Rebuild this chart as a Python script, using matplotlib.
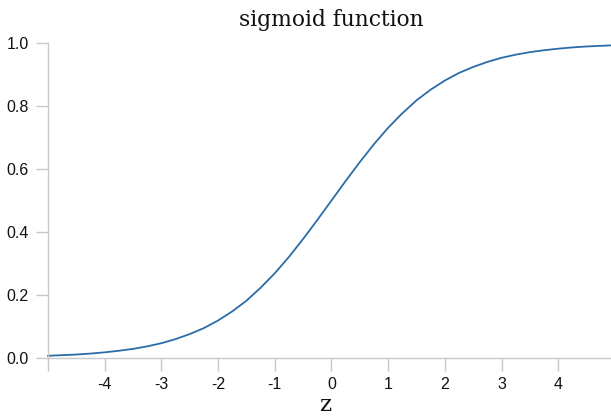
import matplotlib
matplotlib.use('Agg')
import matplotlib.pyplot as plt

# values
z = [-5.0, -4.75, -4.5, -4.25, -4.0, -3.75, -3.5, -3.25, -3.0, -2.75, -2.5,
     -2.25, -2.0, -1.75, -1.5, -1.25, -1.0, -0.75, -0.5, -0.25, 0.0,
     0.25, 0.5, 0.75, 1.0, 1.25, 1.5, 1.75, 2.0, 2.25, 2.5,
     2.75, 3.0, 3.25, 3.5, 3.75, 4.0, 4.25, 4.5, 4.75, 5.0]
sig = [0.007, 0.009, 0.011, 0.014, 0.018, 0.023, 0.029, 0.037, 0.047, 0.060, 0.076,
       0.095, 0.119, 0.148, 0.182, 0.223, 0.269, 0.321, 0.378, 0.438, 0.500,
       0.562, 0.622, 0.679, 0.731, 0.777, 0.818, 0.852, 0.881, 0.905, 0.924,
       0.940, 0.953, 0.963, 0.971, 0.977, 0.982, 0.986, 0.989, 0.991, 0.993]
x_ticks = [-5, -4, -3, -2, -1, 0, 1, 2, 3, 4]
x_labels = ['', '-4', '-3', '-2', '-1', '0', '1', '2', '3', '4']
y_ticks = [0.0, 0.2, 0.4, 0.6, 0.8, 1.0]

fig = plt.figure(figsize=(6.11, 4.19), dpi=100)
ax = fig.add_axes([48 / 611, 1 - 358 / 419, 1 - 48 / 611, (358 - 43) / 419])
ax.plot(z, sig, color='#2b6ca8', linewidth=1.3, clip_on=False,
        solid_joinstyle='round')

ax.set_xlim(-5, 4.93)
ax.set_ylim(0, 1)
ax.set_xticks(x_ticks)
ax.set_xticklabels(x_labels)
ax.set_yticks(y_ticks)
ax.set_yticklabels([f'{v:.1f}' for v in y_ticks])

for s in ['top', 'right']:
    ax.spines[s].set_visible(False)
for s in ['left', 'bottom']:
    ax.spines[s].set_color('#c8c8c8')
    ax.spines[s].set_linewidth(1)
ax.tick_params(colors='#c8c8c8', length=9, width=1, labelcolor='#111111',
               labelsize=11.5, pad=5)
for t in ax.get_xticklabels() + ax.get_yticklabels():
    t.set_family('Liberation Sans')

fig.text(331 / 611, 1 - 20 / 419, 'sigmoid function', ha='center', va='center',
         family='DejaVu Serif', fontsize=15.7, color='#111111')
fig.text(325 / 611, 1 - 405 / 419, 'z', ha='center', va='center',
         family='DejaVu Serif', fontsize=16.5, color='#111111')

fig.savefig('out.png', dpi=100)
